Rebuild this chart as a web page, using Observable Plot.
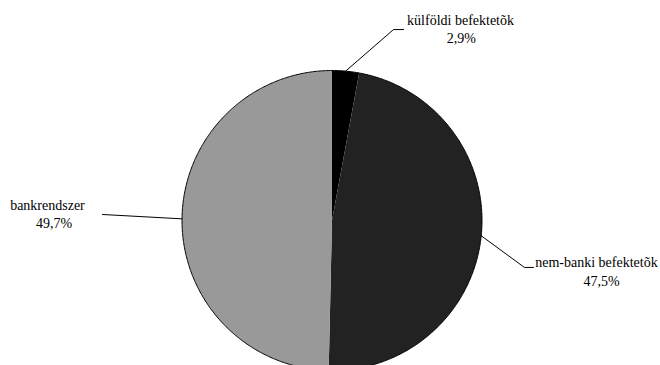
<!DOCTYPE html>
<html>
<head>
<meta charset="utf-8">
<script src="https://cdn.jsdelivr.net/npm/d3@7"></script>
<script src="https://cdn.jsdelivr.net/npm/@observablehq/plot@0.6"></script>
<style>
  html, body { margin: 0; padding: 0; background: #fff; }
  #chart svg { display: block; }
</style>
</head>
<body>
<div id="chart"></div>
<script>
// ---- data ----
const categories = ["külföldi befektetõk", "nem-banki befektetõk", "bankrendszer"];
const shares = [2.9, 47.5, 49.7];
const shareLabels = ["2,9%", "47,5%", "49,7%"];

// ---- styles / layout ----
const sliceColors = ["#000000", "#222222", "#999999"];
// label layout in pie-radius units (centre = 0,0; radius = 1)
const labelLayout = [
  {elbow: [0.41, 1.273], end: [0.477, 1.273], text: [0.857, 1.335], pct: [0.863, 1.212]},
  {elbow: [1.283, -0.313], end: [1.343, -0.313], text: [1.763, -0.28], pct: [1.797, -0.405]},
  {elbow: null, end: [-1.53, 0.04], text: [-1.897, 0.1], pct: [-1.853, -0.022]}
];

const W = 660, H = 365, R = 150, CX = 331.5, CY = 220;

const arcs = d3.pie().sort(null).value(d => d.v).startAngle(0).endAngle(2 * Math.PI)(
  categories.map((c, i) => ({name: c, v: shares[i], i}))
);

const slicePts = [];
arcs.forEach(a => {
  const n = Math.max(2, Math.ceil((a.endAngle - a.startAngle) / (Math.PI / 360)));
  slicePts.push({name: a.data.name, x: 0, y: 0, fill: sliceColors[a.data.i]});
  for (let k = 0; k <= n; k++) {
    const t = a.startAngle + (a.endAngle - a.startAngle) * k / n;
    slicePts.push({name: a.data.name, x: Math.sin(t), y: Math.cos(t), fill: sliceColors[a.data.i]});
  }
  slicePts.push({name: a.data.name, x: 0, y: 0, fill: sliceColors[a.data.i]});
});

const circlePts = d3.range(0, 721).map(k => ({x: Math.sin(k * Math.PI / 360), y: Math.cos(k * Math.PI / 360)}));

const leaderPts = [];
arcs.forEach(a => {
  const mid = (a.startAngle + a.endAngle) / 2;
  const L = labelLayout[a.data.i];
  leaderPts.push({name: a.data.name, x: Math.sin(mid), y: Math.cos(mid)});
  if (L.elbow) leaderPts.push({name: a.data.name, x: L.elbow[0], y: L.elbow[1]});
  leaderPts.push({name: a.data.name, x: L.end[0], y: L.end[1]});
});

const labelRows = categories.map((c, i) => ({name: c, x: labelLayout[i].text[0], y: labelLayout[i].text[1]}));
const pctRows = shareLabels.map((p, i) => ({name: p, x: labelLayout[i].pct[0], y: labelLayout[i].pct[1]}));

const serif = "'Liberation Serif', 'Times New Roman', serif";
const chart = Plot.plot({
  width: W,
  height: H,
  margin: 0,
  x: {domain: [-CX / R, (W - CX) / R], axis: null},
  y: {domain: [-(H - CY) / R, CY / R], axis: null},
  color: {type: "identity"},
  style: {background: "#fff"},
  marks: [
    Plot.line(slicePts, {x: "x", y: "y", z: "name", fill: "fill", stroke: "none", curve: "linear"}),
    Plot.line(circlePts, {x: "x", y: "y", stroke: "#000", strokeWidth: 1}),
    Plot.line(leaderPts, {x: "x", y: "y", z: "name", stroke: "#000", strokeWidth: 1}),
    Plot.text(labelRows, {x: "x", y: "y", text: "name", fontSize: 14, fontFamily: serif, fill: "#000"}),
    Plot.text(pctRows, {x: "x", y: "y", text: "name", fontSize: 14, fontFamily: serif, fill: "#000"})
  ]
});
chart.querySelectorAll("text").forEach(t => t.style.fontFamily = serif);
document.getElementById("chart").appendChild(chart);
</script>
</body>
</html>
